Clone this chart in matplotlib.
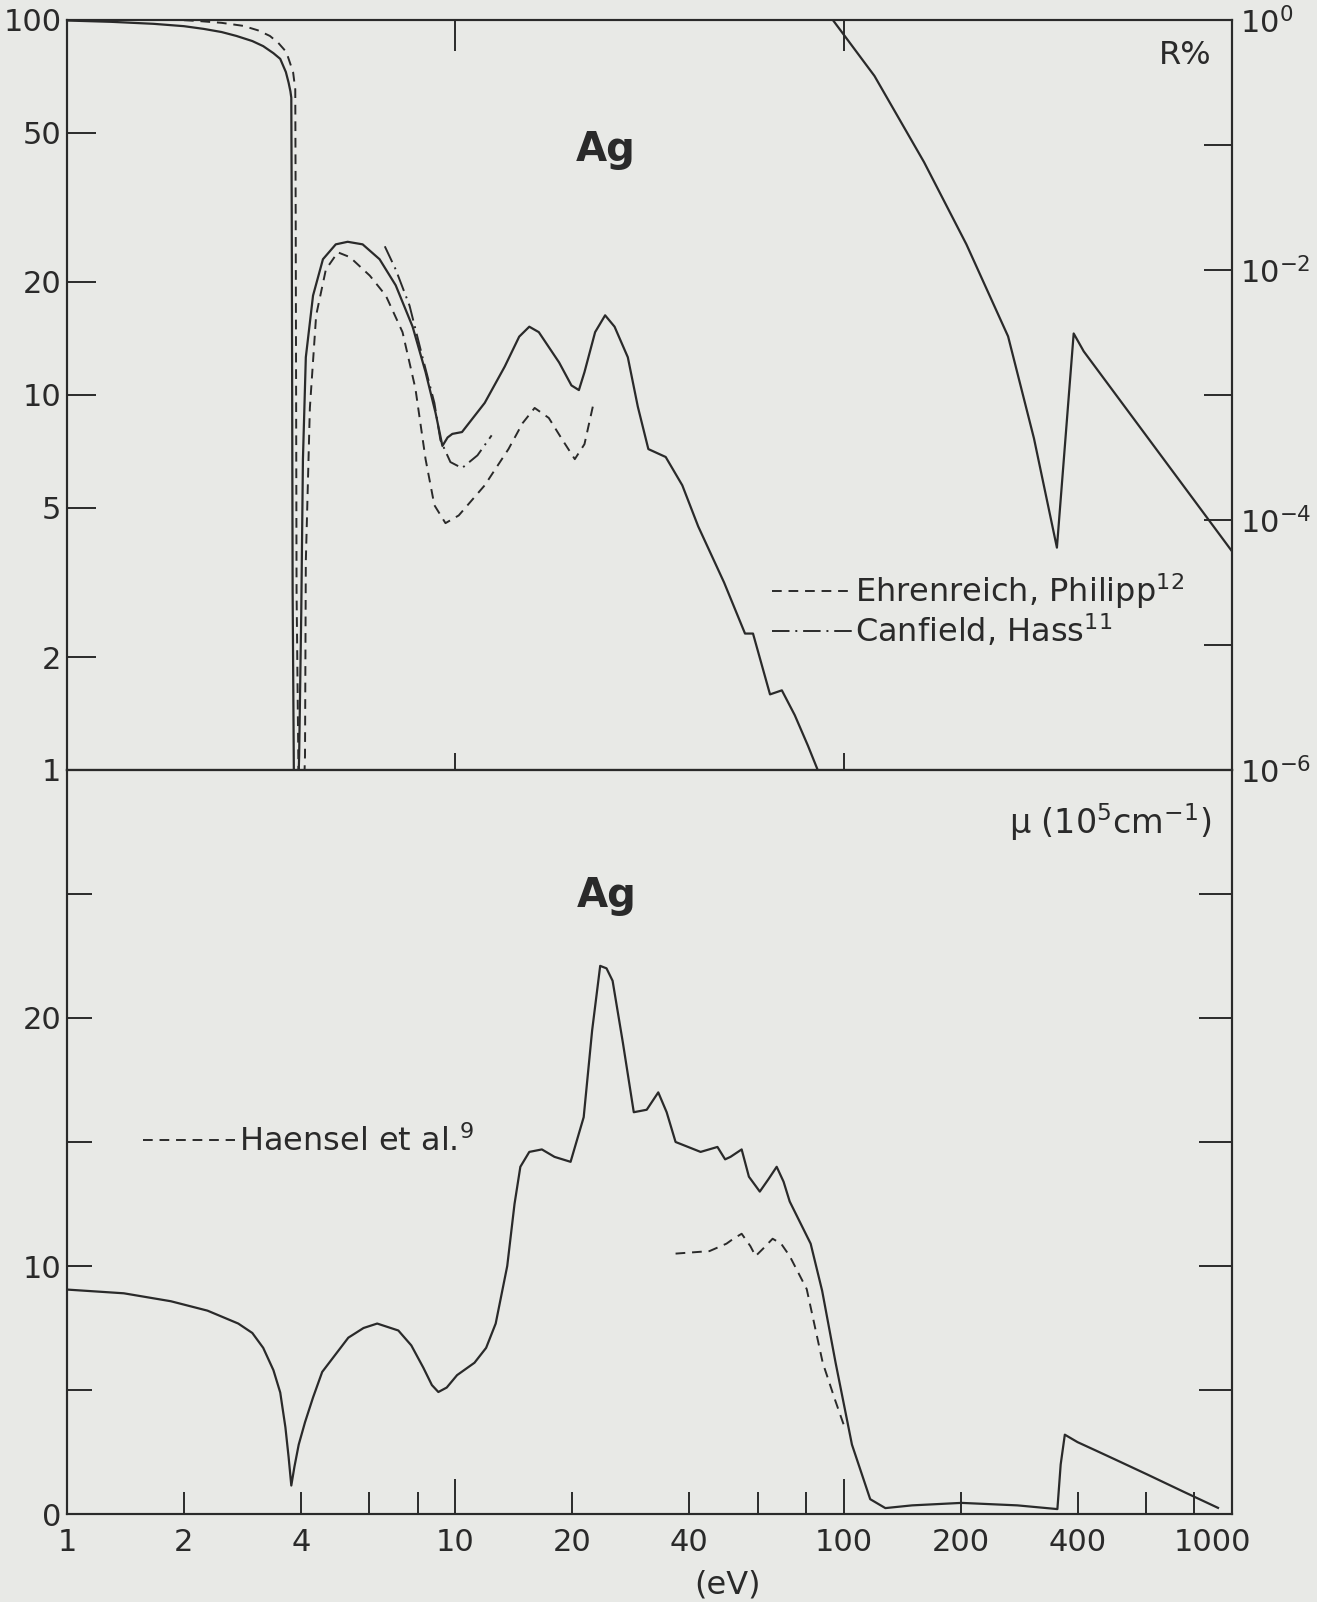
import matplotlib
matplotlib.use('Agg')
import matplotlib.pyplot as plt
from matplotlib.ticker import FixedLocator, FixedFormatter, NullLocator, NullFormatter

plt.rcParams['font.family'] = ['DejaVu Sans']
plt.rcParams['mathtext.fontset'] = 'dejavusans'

ink = '#2a2a2a'
paper = '#e8e9e6'

# reflectance R% (top panel, left axis)
E_solid = [1.0, 1.3, 1.67, 2.0, 2.25, 2.5, 2.73, 3.0, 3.2, 3.4, 3.54, 3.66, 3.72, 3.76, 3.78,
           3.79, 3.81, 3.86, 3.96, 4.01, 4.05, 4.12, 4.30, 4.56, 4.92, 5.28, 5.77, 6.38, 7.02,
           7.76, 8.38, 8.89, 9.26, 9.55, 9.82, 10.4, 11.9, 13.4, 14.6, 15.5, 16.4, 18.5, 19.9,
           20.8, 21.5, 22.9, 24.3, 25.7, 27.8, 29.5, 31.4, 34.8, 38.4, 42.2, 49.2, 55.7, 58.4,
           64.6, 69.3, 74.8, 80.9, 85.8, 88.0]
R_solid = [99.6, 98.8, 97.6, 96.2, 94.6, 92.8, 90.6, 87.8, 85.1, 81.5, 78.7, 72.6, 68.0, 64.5, 62.0,
           30.0, 3.0, 0.4, 1.09, 2.63, 6.74, 12.6, 18.4, 23.0, 25.2, 25.6, 25.2, 23.0, 19.6,
           15.2, 11.5, 8.96, 7.31, 7.7, 7.87, 7.96, 9.52, 11.9, 14.3, 15.2, 14.7, 12.2, 10.6,
           10.3, 11.5, 14.7, 16.3, 15.2, 12.6, 9.3, 7.17, 6.83, 5.74, 4.46, 3.16, 2.31, 2.31,
           1.59, 1.63, 1.40, 1.16, 0.997, 0.9]

# Ehrenreich, Philipp
E_ep = [2.0, 2.15, 2.5, 2.84, 3.1, 3.33, 3.5, 3.67, 3.82, 3.87, 3.88, 3.90, 3.98, 4.10, 4.12,
        4.22, 4.38, 4.64, 4.98, 5.35, 6.02, 6.62, 7.31, 7.89, 8.38, 8.83, 9.43, 10.2, 11.9,
        13.7, 14.9, 16.0, 17.4, 18.8, 20.3, 21.5, 22.7]
R_ep = [99.8, 99.4, 98.2, 96.4, 93.8, 90.6, 86.8, 82.1, 72.6, 65.3, 30.0, 3.0, 0.4, 1.09, 3.6,
        9.23, 16.3, 21.6, 24.0, 23.3, 20.8, 18.4, 14.7, 10.4, 6.74, 5.08, 4.55, 4.77, 5.74,
        7.17, 8.41, 9.23, 8.68, 7.63, 6.74, 7.39, 9.52]

# Canfield, Hass
E_ch = [6.58, 7.02, 7.62, 8.23, 8.83, 9.15, 9.71, 10.4, 11.4, 12.4]
R_ch = [24.9, 21.6, 17.3, 12.6, 9.52, 7.58, 6.62, 6.38, 6.9, 7.8]

# high energy reflectance (right axis)
E_hi = [88, 93.7, 120, 161, 207, 265, 309, 354, 391, 415, 1000]
R_hi = [1.3, 1.0, 0.356, 0.0728, 0.016, 2.94e-3, 4.48e-4, 6.0e-5, 3.1e-3, 2.23e-3, 5.6e-5]

# absorption coefficient mu (bottom panel)
E_mu = [1.0, 1.4, 1.85, 2.3, 2.76, 3.0, 3.2, 3.4, 3.54, 3.65, 3.72, 3.78, 3.85, 3.95, 4.1, 4.3,
        4.54, 5.3, 5.8, 6.29, 7.13, 7.7, 8.27, 8.7, 9.04, 9.5, 10.1, 11.2, 12.0, 12.7, 13.6,
        14.2, 14.7, 15.5, 16.7, 18.0, 19.8, 21.4, 22.5, 23.6, 24.5, 25.4, 27.0, 28.8, 31.1,
        33.3, 35.0, 36.9, 42.8, 47.3, 49.5, 51.1, 54.6, 57.0, 60.8, 64.0, 67.2, 70.0, 72.6,
        82.2, 88.0, 95.3, 105, 117, 128, 150, 201, 280, 355, 362, 371, 400, 446, 500, 604,
        750, 920]
mu = [9.05, 8.9, 8.58, 8.2, 7.68, 7.3, 6.7, 5.8, 4.9, 3.5, 2.3, 1.15, 1.9, 2.8, 3.7, 4.7,
      5.73, 7.11, 7.5, 7.68, 7.4, 6.8, 5.9, 5.2, 4.92, 5.1, 5.6, 6.1, 6.7, 7.68, 10.0,
      12.5, 14.0, 14.6, 14.7, 14.4, 14.2, 16.0, 19.5, 22.1, 22.0, 21.5, 19.0, 16.2, 16.3,
      17.0, 16.2, 15.0, 14.6, 14.8, 14.3, 14.4, 14.7, 13.6, 13.0, 13.5, 14.0, 13.4, 12.6,
      10.9, 9.0, 6.1, 2.8, 0.6, 0.24, 0.35, 0.45, 0.35, 0.2, 2.0, 3.2, 2.9, 2.56, 2.2, 1.6,
      0.9, 0.25]

# Haensel et al.
E_ha = [36.9, 45.1, 49.9, 52.0, 54.6, 57.5, 59.3, 62.0, 65.6, 69.0, 72.6, 80.3, 88.3, 95.0, 100]
mu_ha = [10.5, 10.6, 10.9, 11.1, 11.3, 10.8, 10.4, 10.7, 11.1, 10.9, 10.4, 9.07, 6.1, 4.6, 3.6]

R_ticks = [1, 2, 5, 10, 20, 50, 100]
R_tick_labels = ['1', '2', '5', '10', '20', '50', '100']
Rr_ticks = [1e-6, 1e-4, 1e-2, 1]
Rr_tick_labels = ['$10^{-6}$', '$10^{-4}$', '$10^{-2}$', '$10^{0}$']
x_major = [1, 10, 100, 1000]
x_major_labels = ['1', '10', '100', '']
x_minor = [2, 4, 6, 8, 20, 40, 60, 80, 200, 400, 600, 800]
x_minor_labels = ['2', '4', '', '', '20', '40', '', '', '200', '400', '', '']

dashed = (0, (5, 3.5))
dashdot = (0, (9, 3, 1, 3))
lw = 1.6

fig = plt.figure(figsize=(13.17, 16.02), dpi=100, facecolor=paper)
ax1 = fig.add_axes([0.0509, 0.5194, 0.8846, 0.4682], facecolor=paper)
ax2 = fig.add_axes([0.0509, 0.0549, 0.8846, 0.4645], facecolor=paper)

# ---- top panel
ax1.plot(E_solid, R_solid, color=ink, lw=lw)
ax1.plot(E_ep, R_ep, color=ink, lw=1.4, ls=dashed, label='Ehrenreich, Philipp$^{12}$')
ax1.plot(E_ch, R_ch, color=ink, lw=1.4, ls=dashdot, label='Canfield, Hass$^{11}$')
ax1.set_xscale('log')
ax1.set_yscale('log')
ax1.set_xlim(1, 1000)
ax1.set_ylim(1, 100)
ax1.yaxis.set_major_locator(FixedLocator(R_ticks))
ax1.yaxis.set_major_formatter(FixedFormatter(R_tick_labels))
ax1.yaxis.set_minor_locator(NullLocator())
ax1.xaxis.set_major_locator(FixedLocator([10, 100]))
ax1.xaxis.set_minor_locator(NullLocator())
ax1.tick_params(axis='y', direction='in', length=21, width=1.4, labelsize=22, pad=4,
                colors=ink)
ax1.tick_params(axis='x', top=False, bottom=True, labelbottom=False, direction='inout',
                length=25, width=1.4, colors=ink)

ax1r = ax1.twinx()
ax1r.plot(E_hi, R_hi, color=ink, lw=lw)
ax1r.set_yscale('log')
ax1r.set_ylim(1e-6, 1)
ax1r.yaxis.set_major_locator(FixedLocator(Rr_ticks))
ax1r.yaxis.set_major_formatter(FixedFormatter(Rr_tick_labels))
ax1r.yaxis.set_minor_locator(FixedLocator([1e-5, 1e-3, 1e-1]))
ax1r.yaxis.set_minor_formatter(NullFormatter())
ax1r.tick_params(axis='y', which='both', direction='in', length=20, width=1.4,
                 labelsize=22, pad=6, colors=ink)
ax1r.xaxis.set_visible(True)
ax1r.tick_params(axis='x', top=True, bottom=False, labeltop=False, labelbottom=False,
                 direction='in', length=22, width=1.4, colors=ink)

ax1.text(0.462, 0.827, 'Ag', transform=ax1.transAxes, fontsize=29, fontweight='bold',
         ha='center', va='center', color=ink)
ax1.text(0.96, 0.952, 'R%', transform=ax1.transAxes, fontsize=23, ha='center',
         va='center', color=ink)
ax1.legend(loc='upper left', bbox_to_anchor=(0.605, 0.265), frameon=False,
           fontsize=23, handlelength=2.5, handletextpad=0.1, labelspacing=0.05,
           borderpad=0, borderaxespad=0, labelcolor=ink)

# ---- bottom panel
ax2.plot(E_mu, mu, color=ink, lw=lw)
h_ha, = ax2.plot(E_ha, mu_ha, color=ink, lw=1.4, ls=dashed, label='Haensel et al.$^{9}$')
ax2.set_xscale('log')
ax2.set_xlim(1, 1000)
ax2.set_ylim(0, 30)
ax2.xaxis.set_major_locator(FixedLocator(x_major))
ax2.xaxis.set_major_formatter(FixedFormatter(x_major_labels))
ax2.xaxis.set_minor_locator(FixedLocator(x_minor))
ax2.xaxis.set_minor_formatter(FixedFormatter(x_minor_labels))
ax2.tick_params(axis='x', which='major', direction='in', length=25, width=1.4,
                labelsize=22, pad=10, colors=ink)
ax2.tick_params(axis='x', which='minor', direction='in', length=16, width=1.4,
                labelsize=22, pad=10, colors=ink)
ax2.yaxis.set_major_locator(FixedLocator([0, 10, 20]))
ax2.yaxis.set_minor_locator(FixedLocator([5, 15, 25]))
ax2.tick_params(axis='y', which='both', direction='in', length=18, width=1.4,
                labelsize=22, pad=4, colors=ink)

ax2r = ax2.twinx()
ax2r.set_ylim(0, 30)
ax2r.yaxis.set_major_locator(FixedLocator([5, 10, 15, 20, 25]))
ax2r.tick_params(axis='y', direction='in', length=24, width=1.4, labelright=False,
                 colors=ink)

# the 1000 label sits a little left of the right spine
ax2.annotate('1000', xy=(1000, 0), xycoords=('data', 'axes fraction'), xytext=(-14, -10),
             textcoords='offset points', ha='center', va='top', fontsize=22, color=ink)

ax2.set_xlabel('(eV)', fontsize=23, color=ink)
ax2.xaxis.set_label_coords(0.567, -0.074)
ax2.text(0.463, 0.831, 'Ag', transform=ax2.transAxes, fontsize=29, fontweight='bold',
         ha='center', va='center', color=ink)
ax2.text(0.982, 0.930, 'μ (10$^{5}$cm$^{-1}$)', transform=ax2.transAxes, fontsize=24,
         ha='right', va='center', color=ink)
ax2.legend(handles=[h_ha], loc='center left', bbox_to_anchor=(0.065, 0.50), frameon=False,
           fontsize=23, handlelength=2.9, handletextpad=0.1, borderpad=0, borderaxespad=0,
           labelcolor=ink)

for a in (ax1, ax1r, ax2, ax2r):
    for s in a.spines.values():
        s.set_linewidth(1.5)
        s.set_color(ink)

fig.savefig('out.png', dpi=100, facecolor=paper)
